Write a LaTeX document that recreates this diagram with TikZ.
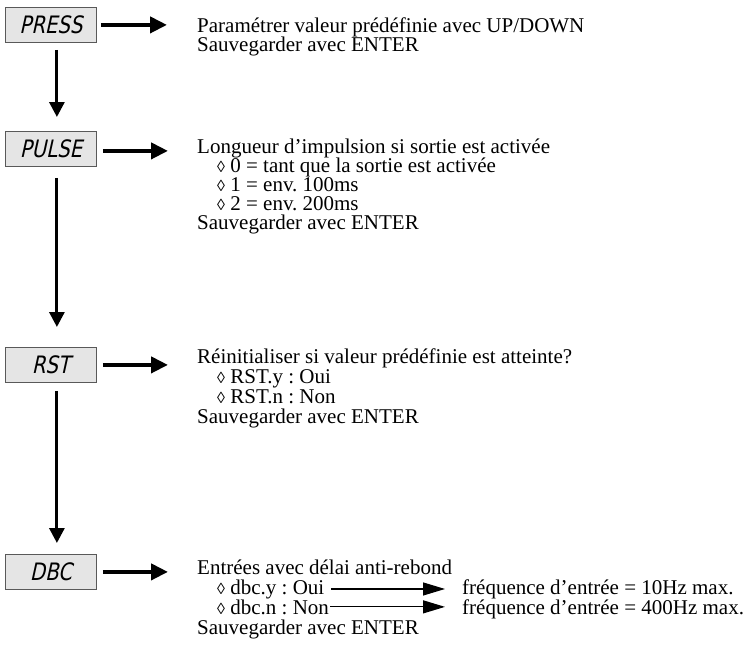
\documentclass[tikz,border=0pt]{standalone}
\usepackage{fontspec}
\setmainfont{Liberation Serif}
\newfontfamily\lcdfont{DejaVu Sans}[FakeSlant=0.22,FakeStretch=0.82]
\usetikzlibrary{arrows.meta}
\newcommand\lozg{{\fontsize{16}{16}\selectfont ◊}}
\begin{document}
\frenchspacing
\begin{tikzpicture}[x=1pt,y=-1pt,
  lcdbox/.style={draw=black!65, fill=black!10, line width=0.8pt,
    minimum width=91pt, minimum height=35pt, inner sep=0pt,
    font=\lcdfont\fontsize{24}{24}\selectfont, anchor=north west},
  txt/.style={anchor=base west, inner sep=0pt, font=\fontsize{21}{21}\selectfont\frenchspacing},
  bigarrow/.style={line width=4pt, -{Triangle[length=17pt,width=16pt]}},
  downarrow/.style={line width=3pt, -{Triangle[length=15pt,width=15pt]}},
  smallarrow/.style={line width=1.2pt, -{Triangle[length=22pt,width=13pt]}}]
\useasboundingbox (0,0) rectangle (747,648);

% LCD boxes
\node[lcdbox] (press) at (5,7)   {PRESS};
\node[lcdbox] (pulse) at (5,131) {PULSE};
\node[lcdbox] (rst)   at (5,347) {RST};
\node[lcdbox] (dbc)   at (5,554) {DBC};

% PRESS text
\node[txt] (a1) at (197,32) {Paramétrer valeur prédéfinie avec UP/DOWN};
\node[txt] (a2) at (197,51) {Sauvegarder avec ENTER};

% PULSE text
\node[txt] (b1) at (197,153) {Longueur d’impulsion si sortie est activée};
\node[txt] (b2) at (217,172) {\lozg{} 0 = tant que la sortie est activée};
\node[txt] (b3) at (217,191) {\lozg{} 1 = env. 100ms};
\node[txt] (b4) at (217,210) {\lozg{} 2 = env. 200ms};
\node[txt] (b5) at (197,229) {Sauvegarder avec ENTER};

% RST text
\node[txt] (c1) at (197,363) {Réinitialiser si valeur prédéfinie est atteinte?};
\node[txt] (c2) at (217,383) {\lozg{} RST.y : Oui};
\node[txt] (c3) at (217,403) {\lozg{} RST.n : Non};
\node[txt] (c4) at (197,423) {Sauvegarder avec ENTER};

% DBC text
\node[txt] (d1) at (197,574) {Entrées avec délai anti-rebond};
\node[txt] (d2) at (217,594) {\lozg{} dbc.y : Oui};
\node[txt] (d3) at (217,614) {\lozg{} dbc.n : Non};
\node[txt] (d4) at (197,634) {Sauvegarder avec ENTER};
\node[txt] (f1) at (462,594) {fréquence d’entrée = 10Hz max.};
\node[txt] (f2) at (462,614) {fréquence d’entrée = 400Hz max.};

% horizontal arrows
\draw[bigarrow] ([xshift=4pt]press.east) -- ([xshift=-30pt]press.east -| a1.west);
\draw[bigarrow] ([xshift=6pt,yshift=-2pt]pulse.east) -- ([xshift=-29pt,yshift=-2pt]pulse.east -| b1.west);
\draw[bigarrow] ([xshift=6pt]rst.east) -- ([xshift=-29pt]rst.east -| c1.west);
\draw[bigarrow] ([xshift=6pt]dbc.east) -- ([xshift=-29pt]dbc.east -| d1.west);

% vertical arrows
\draw[downarrow] ([xshift=6pt,yshift=-7pt]press.south) -- ([xshift=6pt,yshift=14pt]pulse.north);
\draw[downarrow] ([xshift=6pt,yshift=-11pt]pulse.south) -- ([xshift=6pt,yshift=20pt]rst.north);
\draw[downarrow] ([xshift=6pt,yshift=-8pt]rst.south) -- ([xshift=6pt,yshift=11pt]dbc.north);

% small arrows
\draw[smallarrow] ([xshift=7pt]d2.east) -- ([xshift=-17pt]d2.east -| f1.west);
\draw[smallarrow] ([xshift=1pt]d3.east) -- ([xshift=-17pt]d3.east -| f2.west);
\end{tikzpicture}
\end{document}
